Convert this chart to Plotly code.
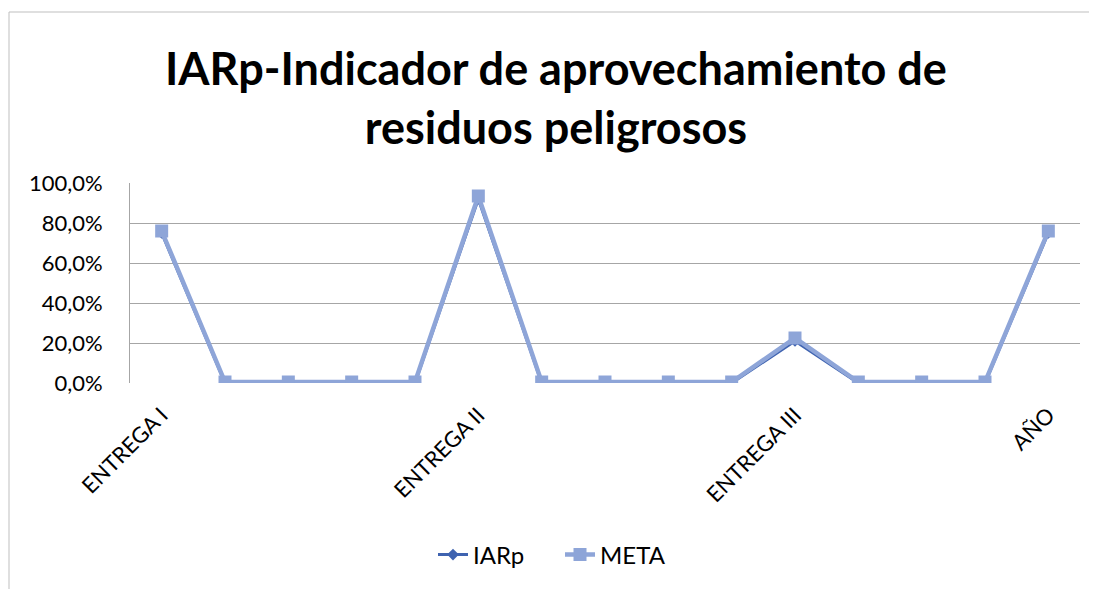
import plotly.graph_objects as go

x_idx = list(range(15))
tick_labels = ["ENTREGA I", "", "", "", "", "ENTREGA II", "", "", "", "", "ENTREGA III", "", "", "", "AÑO"]
iarp = [0.75, 0, 0, 0, 0, 0.92, 0, 0, 0, 0, 0.21, 0, 0, 0, 0.75]
meta = [0.76, 0.005, 0.005, 0.005, 0.005, 0.935, 0.005, 0.005, 0.005, 0.005, 0.225, 0.005, 0.005, 0.005, 0.76]

FONT = "Lato"
fig = go.Figure()
fig.add_trace(go.Scatter(x=x_idx, y=iarp, name="IARp", mode="lines+markers",
                         line=dict(color="#3F63B0", width=3),
                         marker=dict(symbol="diamond", size=9, color="#3F63B0")))
fig.add_trace(go.Scatter(x=x_idx, y=meta, name="META", mode="lines+markers",
                         line=dict(color="#8EA5D8", width=4.5),
                         marker=dict(symbol="square", size=13, color="#8EA5D8")))

OFF = 8  # page body margin
W, H = 1097 - OFF, 589 - OFF
PL, PR, PT, PB = 130, 1080, 183, 383
L, T = PL - OFF, PT - OFF
R = W - (PR - OFF)
B = H - (PB - OFF)
pw, ph = PR - PL, PB - PT

def px_x(p):
    return (p - PL) / pw

def px_y(p):
    return (PB - p) / ph

fig.add_shape(type="rect", xref="paper", yref="paper",
              x0=px_x(9), x1=px_x(1110), y0=px_y(620), y1=px_y(12),
              line=dict(color="#BFBFBF", width=1), fillcolor="rgba(0,0,0,0)", layer="below")

fig.add_annotation(xref="paper", yref="paper", x=px_x(556), y=px_y(97),
                   text="<b>IARp-Indicador de aprovechamiento de<br>residuos peligrosos</b>",
                   showarrow=False, xanchor="center", yanchor="middle",
                   font=dict(family=FONT, size=45, color="#000000"))

fig.update_layout(
    width=W, height=H,
    margin=dict(l=L, r=R, t=T, b=B),
    paper_bgcolor="white", plot_bgcolor="white",
    separators=",.",
    font=dict(family=FONT, size=22, color="#000000"),
    showlegend=True,
    legend=dict(orientation="h", xanchor="center", x=px_x(560), yanchor="middle", y=px_y(555),
                font=dict(family=FONT, size=24), entrywidth=82),
    xaxis=dict(range=[-0.5, 14.5], tickmode="array", tickvals=x_idx, ticktext=tick_labels,
               tickangle=-45, showgrid=False, zeroline=False, showline=False,
               ticks="", ticklabelstandoff=14, tickfont=dict(family=FONT, size=22)),
    yaxis=dict(range=[0, 1], tickformat=".1%", dtick=0.2, showgrid=True,
               gridcolor="#A6A6A6", gridwidth=1, zeroline=False,
               showline=True, linecolor="#A6A6A6", linewidth=1,
               ticks="", ticklabelstandoff=22, tickfont=dict(family=FONT, size=22)),
)

fig.write_html("out.html")
